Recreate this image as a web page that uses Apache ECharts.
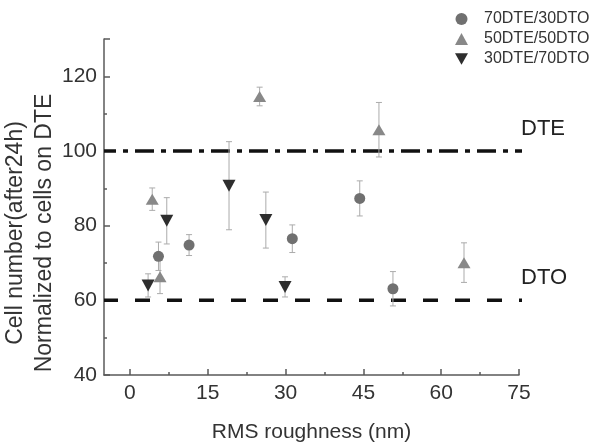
<!DOCTYPE html>
<html>
<head>
<meta charset="utf-8">
<script src="https://cdn.jsdelivr.net/npm/echarts@6/dist/echarts.min.js"></script>
<style>html,body{margin:0;padding:0;background:#fff}#c{width:600px;height:447px}</style>
</head>
<body>
<div id="c"></div>
<script>
// RMS roughness (nm), normalized cell number, and error (±)
const x70 = [5.5, 11.4, 31.3, 44.3, 50.7];
const y70 = [71.8, 74.8, 76.5, 87.3, 63.1];
const e70 = [3.8, 2.8, 3.7, 4.7, 4.6];

const x50 = [4.3, 5.8, 25.0, 48.0, 64.4];
const y50 = [87.1, 66.3, 114.6, 105.7, 70.1];
const e50 = [3.0, 4.5, 2.5, 7.3, 5.3];

const x30 = [3.5, 7.1, 19.1, 26.2, 29.9];
const y30 = [64.0, 81.3, 90.7, 81.5, 63.6];
const e30 = [3.1, 6.2, 11.8, 7.5, 2.7];

const seriesNames = ['70DTE/30DTO', '50DTE/50DTO', '30DTE/70DTO'];
const refNames = ['DTE', 'DTO'];
const refValues = [100, 60];
const refXRange = [-5, 77.5];

const xTicks = [0, 15, 30, 45, 60, 75];
const xMinorTicks = [7.5, 22.5, 37.5, 52.5, 67.5];
const yTicks = [40, 60, 80, 100, 120];
const yMinorTicks = [50, 70, 90, 110];

const FONT = '"Liberation Sans", Arial, sans-serif';
const AX = '#5a5a5a';

function pts(xs, ys) { return xs.map((x, i) => [x, ys[i]]); }
function errs(xs, ys, es) { return xs.map((x, i) => [x, ys[i], es[i]]); }

function errRender(params, api) {
  const x = api.value(0), y = api.value(1), e = api.value(2);
  const t = api.coord([x, y + e]);
  const b = api.coord([x, y - e]);
  const hw = 3;
  const st = { stroke: '#ababab', lineWidth: 1 };
  return {
    type: 'group',
    children: [
      { type: 'line', shape: { x1: t[0], y1: t[1], x2: b[0], y2: b[1] }, style: st },
      { type: 'line', shape: { x1: t[0] - hw, y1: t[1], x2: t[0] + hw, y2: t[1] }, style: st },
      { type: 'line', shape: { x1: b[0] - hw, y1: b[1], x2: b[0] + hw, y2: b[1] }, style: st }
    ]
  };
}

function errSeries(name, data) {
  return { name: name, type: 'custom', renderItem: errRender, data: data, z: 2, silent: true,
    encode: { x: 0, y: [1] } };
}

const downTri = 'path://M0,0L10,0L5,9Z';

const chart = echarts.init(document.getElementById('c'), null, { renderer: 'canvas' });
chart.setOption({
  animation: false,
  textStyle: { fontFamily: FONT },
  grid: { left: 104, right: 81, top: 39, bottom: 72, containLabel: false, outerBoundsMode: 'none' },
  legend: {
    data: seriesNames,
    orient: 'vertical',
    left: 450, top: 6,
    itemWidth: 13, itemHeight: 12, itemGap: 4,
    textStyle: { fontSize: 16, color: '#333', lineHeight: 16, fontFamily: FONT, padding: [0, 0, 0, 11] }
  },
  xAxis: [
    {
      type: 'value', min: -5, max: 75, position: 'bottom',
      name: 'RMS roughness (nm)', nameLocation: 'middle', nameGap: 47,
      nameTextStyle: { fontSize: 21, color: '#333', fontFamily: FONT },
      axisLine: { onZero: false, lineStyle: { color: AX, width: 1.5 } },
      axisTick: { inside: true, length: 6, customValues: xTicks, lineStyle: { color: AX, width: 1.5 } },
      axisLabel: { customValues: xTicks, fontSize: 21, color: '#333', margin: 8, fontFamily: FONT },
      splitLine: { show: false }
    },
    {
      type: 'value', min: -5, max: 75, position: 'bottom',
      axisLine: { show: false, onZero: false },
      axisTick: { inside: true, length: 3, customValues: xMinorTicks, lineStyle: { color: AX, width: 1.5 } },
      axisLabel: { show: false },
      splitLine: { show: false }
    }
  ],
  yAxis: [
    {
      type: 'value', min: 40, max: 130, position: 'left',
      name: 'Cell number(after24h)\nNormalized to cells on DTE',
      nameLocation: 'middle', nameGap: 45, nameRotate: 90, nameMoveOverlap: false,
      nameTextStyle: { fontSize: 23, lineHeight: 29, color: '#333', fontFamily: FONT, padding: [0, 52, 0, 0] },
      axisLine: { onZero: false, lineStyle: { color: AX, width: 1.5 } },
      axisTick: { inside: true, length: 6, customValues: yTicks.concat([130]), lineStyle: { color: AX, width: 1.5 } },
      axisLabel: { customValues: yTicks, fontSize: 21, color: '#333', margin: 7, fontFamily: FONT },
      splitLine: { show: false }
    },
    {
      type: 'value', min: 40, max: 130, position: 'left',
      axisLine: { show: false, onZero: false },
      axisTick: { inside: true, length: 3, customValues: yMinorTicks, lineStyle: { color: AX, width: 1.5 } },
      axisLabel: { show: false },
      splitLine: { show: false }
    }
  ],
  series: [
    {
      name: refNames[0], type: 'line', symbol: 'none', clip: false, z: 1,
      data: [[refXRange[0], refValues[0]], [refXRange[1], refValues[0]]],
      lineStyle: { color: '#111', width: 3.5, type: [19, 7, 5, 7], dashOffset: 7 },
      endLabel: { show: true, formatter: refNames[0], fontSize: 22, color: '#222', fontFamily: FONT, offset: [-9, -22] }
    },
    {
      name: refNames[1], type: 'line', symbol: 'none', clip: false, z: 1,
      data: [[refXRange[0], refValues[1]], [refXRange[1], refValues[1]]],
      lineStyle: { color: '#111', width: 3.5, type: [15, 17], dashOffset: 1 },
      endLabel: { show: true, formatter: refNames[1], fontSize: 22, color: '#222', fontFamily: FONT, offset: [-9, -22] }
    },
    errSeries('err70', errs(x70, y70, e70)),
    errSeries('err50', errs(x50, y50, e50)),
    errSeries('err30', errs(x30, y30, e30)),
    {
      name: seriesNames[0], type: 'scatter', symbol: 'circle', symbolSize: 11, z: 3,
      itemStyle: { color: '#707070', opacity: 1 }, data: pts(x70, y70)
    },
    {
      name: seriesNames[1], type: 'scatter', symbol: 'triangle', symbolSize: [13, 11], z: 3,
      itemStyle: { color: '#888888', opacity: 1 }, data: pts(x50, y50)
    },
    {
      name: seriesNames[2], type: 'scatter', symbol: downTri, symbolSize: [13, 12], z: 3,
      itemStyle: { color: '#2e2e2e', opacity: 1 }, data: pts(x30, y30)
    }
  ]
});
</script>
</body>
</html>
